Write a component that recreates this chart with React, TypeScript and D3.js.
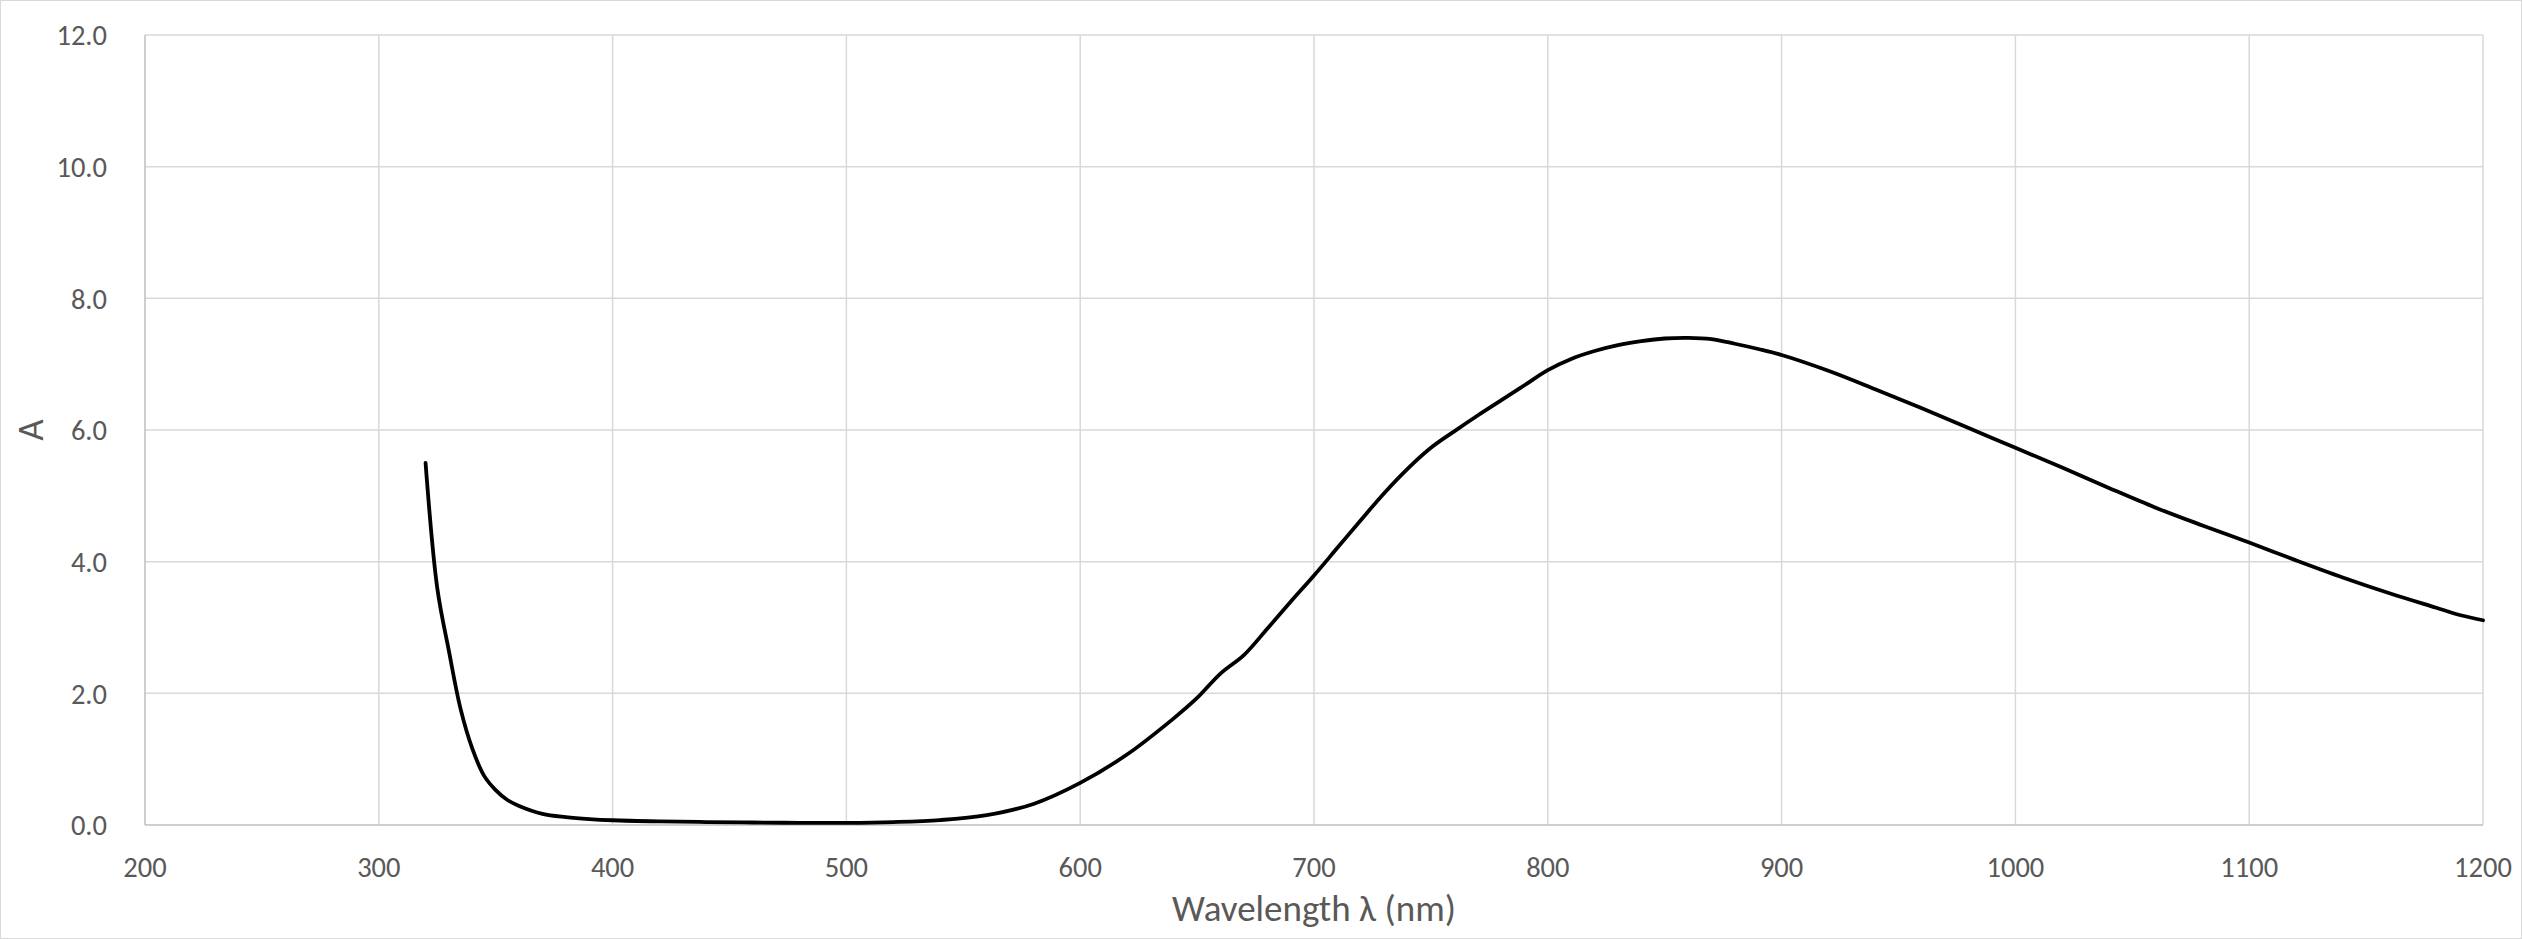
import React, { useEffect, useRef } from "react";
import * as d3 from "d3";

const wavelengths = [
  320, 325, 330, 335, 340, 345, 350, 355, 360, 370, 380, 390, 400, 420, 440, 460, 480, 500,
  520, 540, 560, 580, 600, 620, 640, 650, 660, 670, 680, 690, 700, 710, 720, 730, 740, 750, 760, 770,
  780, 790, 800, 810, 820, 830, 840, 850, 860, 870, 880, 890, 900, 920, 940, 960, 980, 1000, 1020,
  1040, 1060, 1080, 1100, 1120, 1140, 1160, 1180, 1190, 1200,
];
const absorbance = [
  5.5, 3.6, 2.64, 1.76, 1.16, 0.75, 0.53, 0.38, 0.29, 0.17, 0.12, 0.09, 0.072, 0.055, 0.045, 0.038, 0.033, 0.033,
  0.045, 0.075, 0.15, 0.32, 0.64, 1.07, 1.62, 1.93, 2.3, 2.58, 2.98, 3.39, 3.79, 4.21, 4.63, 5.04, 5.41, 5.73, 5.98, 6.22,
  6.45, 6.68, 6.91, 7.08, 7.2, 7.29, 7.35, 7.39, 7.4, 7.38, 7.31, 7.23, 7.14, 6.9, 6.62, 6.33, 6.03, 5.73, 5.43,
  5.12, 4.82, 4.55, 4.29, 4.02, 3.76, 3.52, 3.3, 3.19, 3.11,
];
const xTicks = [200, 300, 400, 500, 600, 700, 800, 900, 1000, 1100, 1200];
const yTicks = [0, 2, 4, 6, 8, 10, 12];
const xTitle = "Wavelength λ (nm)";
const yTitle = "A";

const W = 2522;
const H = 939;
const FONT = "Carlito, Lato, 'Open Sans', 'Noto Sans', sans-serif";

export default function App() {
  const ref = useRef<SVGSVGElement>(null);

  useEffect(() => {
    const svg = d3.select(ref.current);
    svg.selectAll("*").remove();

    const x = d3.scaleLinear().domain([200, 1200]).range([145, 2483]);
    const y = d3.scaleLinear().domain([0, 12]).range([825, 35]);

    svg
      .append("rect")
      .attr("x", 0.5)
      .attr("y", 0.5)
      .attr("width", W - 1)
      .attr("height", H - 1)
      .attr("fill", "#ffffff")
      .attr("stroke", "#d9d9d9")
      .attr("stroke-width", 1);

    const grid = svg.append("g");
    grid
      .selectAll("line.h")
      .data(yTicks.filter((d) => d !== 0))
      .join("line")
      .attr("x1", x(200))
      .attr("x2", x(1200))
      .attr("y1", (d) => y(d))
      .attr("y2", (d) => y(d))
      .attr("stroke", "#d9d9d9")
      .attr("stroke-width", 1.5);
    grid
      .selectAll("line.v")
      .data(xTicks.filter((d) => d !== 200))
      .join("line")
      .attr("x1", (d) => x(d))
      .attr("x2", (d) => x(d))
      .attr("y1", y(0))
      .attr("y2", y(12))
      .attr("stroke", "#d9d9d9")
      .attr("stroke-width", 1.5);

    svg
      .append("line")
      .attr("x1", x(200))
      .attr("x2", x(1200))
      .attr("y1", y(0))
      .attr("y2", y(0))
      .attr("stroke", "#bfbfbf")
      .attr("stroke-width", 1.5);
    svg
      .append("line")
      .attr("x1", x(200))
      .attr("x2", x(200))
      .attr("y1", y(0))
      .attr("y2", y(12))
      .attr("stroke", "#bfbfbf")
      .attr("stroke-width", 1.5);

    svg
      .append("g")
      .selectAll("text")
      .data(yTicks)
      .join("text")
      .attr("x", 107)
      .attr("y", (d) => y(d))
      .attr("dy", "0.36em")
      .attr("text-anchor", "end")
      .attr("font-family", FONT)
      .attr("font-size", 28.5)
      .attr("fill", "#595959")
      .text((d) => d3.format(".1f")(d));

    svg
      .append("g")
      .selectAll("text")
      .data(xTicks)
      .join("text")
      .attr("x", (d) => x(d))
      .attr("y", 877)
      .attr("text-anchor", "middle")
      .attr("font-family", FONT)
      .attr("font-size", 28.5)
      .attr("fill", "#595959")
      .text((d) => String(d));

    svg
      .append("text")
      .attr("x", (x(200) + x(1200)) / 2)
      .attr("y", 921)
      .attr("text-anchor", "middle")
      .attr("font-family", FONT)
      .attr("font-size", 37)
      .attr("fill", "#595959")
      .text(xTitle);

    svg
      .append("text")
      .attr("transform", `translate(43,${(y(0) + y(12)) / 2}) rotate(-90)`)
      .attr("text-anchor", "middle")
      .attr("font-family", FONT)
      .attr("font-size", 37)
      .attr("fill", "#595959")
      .text(yTitle);

    const data = wavelengths.map((w, i) => [w, absorbance[i]] as [number, number]);
    const line = d3
      .line<[number, number]>()
      .x((d) => x(d[0]))
      .y((d) => y(d[1]))
      .curve(d3.curveCatmullRom.alpha(0.5));

    svg
      .append("path")
      .datum(data)
      .attr("d", line)
      .attr("fill", "none")
      .attr("stroke", "#000000")
      .attr("stroke-width", 3.8)
      .attr("stroke-linejoin", "round")
      .attr("stroke-linecap", "round");
  }, []);

  return (
    <svg
      ref={ref}
      width={W}
      height={H}
      style={{ position: "absolute", left: 0, top: 0, background: "#fff" }}
    />
  );
}
